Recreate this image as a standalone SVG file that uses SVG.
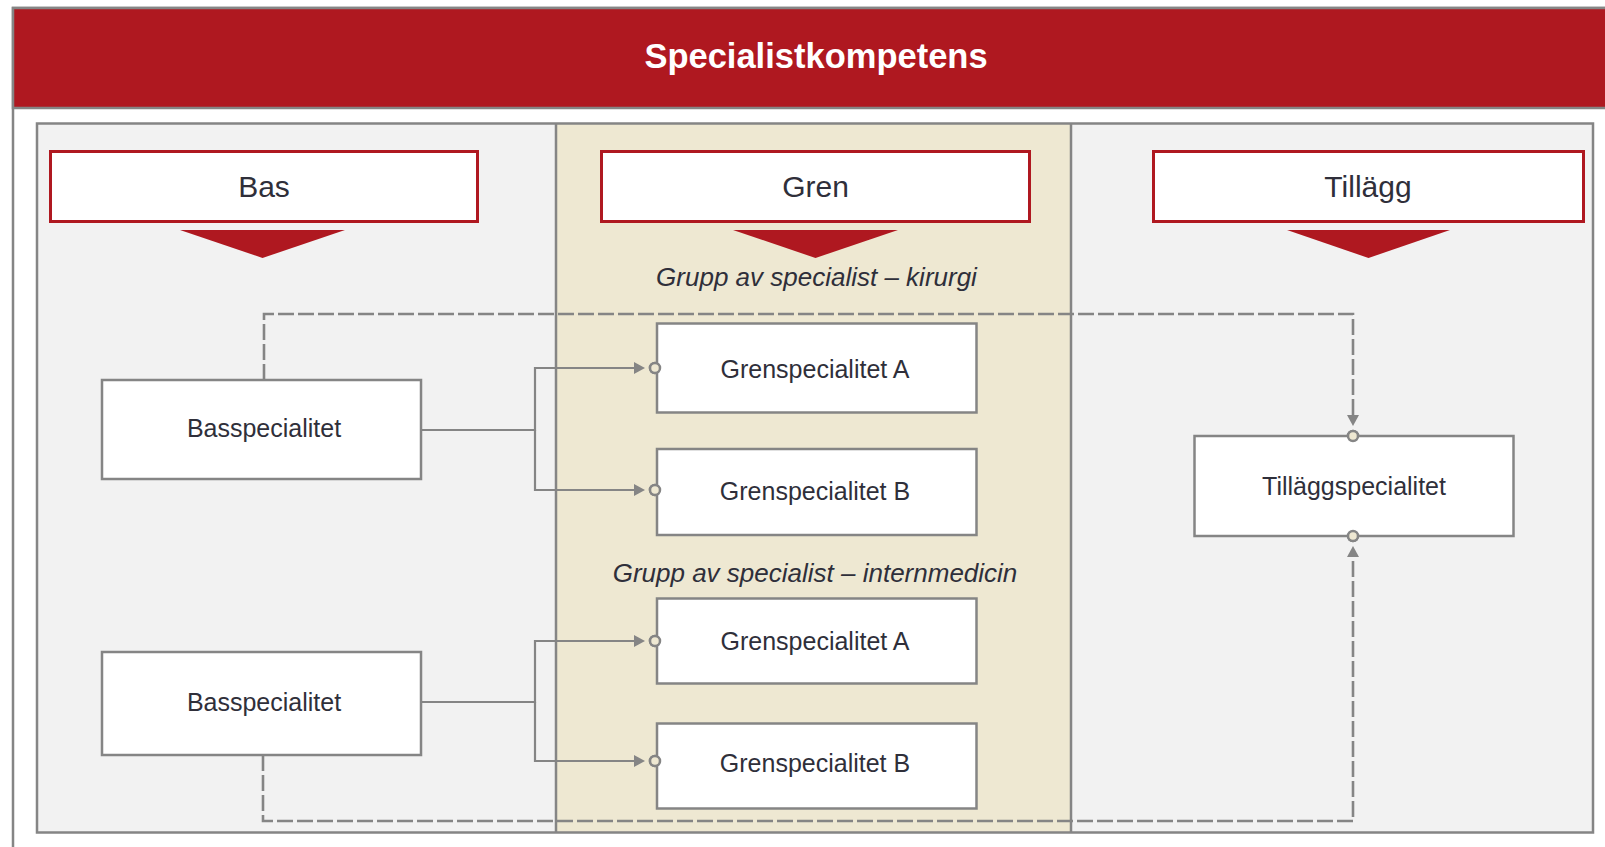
<svg xmlns="http://www.w3.org/2000/svg" width="1605" height="847" viewBox="0 0 1605 847">
<defs>
<style>
.frame{fill:none;stroke:#858585;stroke-width:2.5}
.node{fill:#ffffff;stroke:#858585;stroke-width:2.5}
.head{fill:#ffffff;stroke:#AF1820;stroke-width:3}
.tri{fill:#AF1820}
.lbl{font-family:"Liberation Sans",Arial,sans-serif;fill:#2f2f3a;text-anchor:middle}
.hl{font-size:30px}
.nl{font-size:25px}
.gl{font-size:26px;font-style:italic}
.conn{fill:none;stroke:#858585;stroke-width:2.2}
.dash{fill:none;stroke:#858585;stroke-width:2.6;stroke-dasharray:16 4}
</style>
<marker id="endmk" markerUnits="userSpaceOnUse" viewBox="-1 -8 30 16" refX="0" refY="0" markerWidth="30" markerHeight="16" orient="auto" overflow="visible">
<polygon points="0,-6 11,0 0,6" fill="#858585"/>
<circle cx="21" cy="0" r="5" fill="#EEE8D2" stroke="#858585" stroke-width="2.5"/>
</marker>
</defs>
<rect x="0" y="0" width="1605" height="847" fill="#ffffff"/>
<g id="outer">
<rect x="13" y="8" width="1620" height="860" class="frame"/>
<rect x="13" y="8" width="1620" height="100" fill="#AF1820" stroke="#858585" stroke-width="2.5"/>
<text x="816" y="68" font-family="Liberation Sans,Arial,sans-serif" font-weight="bold" font-size="34.5" fill="#ffffff" text-anchor="middle">Specialistkompetens</text>
</g>
<g id="panel">
<rect x="37" y="123.5" width="1556" height="709" fill="#F2F2F2"/>
<rect x="556" y="123.5" width="515" height="709" fill="#EEE8D2"/>
<rect x="37" y="123.5" width="1556" height="709" class="frame"/>
<line x1="556" y1="123.5" x2="556" y2="832.5" class="frame"/>
<line x1="1071" y1="123.5" x2="1071" y2="832.5" class="frame"/>
</g>
<g id="col-bas">
<rect x="50.5" y="151.5" width="427" height="70" class="head"/>
<text x="264" y="197" class="lbl hl">Bas</text>
<polygon points="180,230 345,230 262.5,258" class="tri"/>
</g>
<g id="col-gren">
<rect x="601.5" y="151.5" width="428" height="70" class="head"/>
<text x="815.5" y="197" class="lbl hl">Gren</text>
<polygon points="733,230 898,230 815.5,258" class="tri"/>
</g>
<g id="col-tillagg">
<rect x="1153.5" y="151.5" width="430" height="70" class="head"/>
<text x="1368" y="197" class="lbl hl">Tillägg</text>
<polygon points="1287,230 1450,230 1368.5,258" class="tri"/>
</g>
<g id="group-labels">
<text x="816.5" y="286" class="lbl gl">Grupp av specialist – kirurgi</text>
<text x="815" y="582" class="lbl gl">Grupp av specialist – internmedicin</text>
</g>
<g id="connectors">
<path d="M264,380 V314 H1353 V415" class="dash" marker-end="url(#endmk)"/>
<path d="M263,755 V821 H1353 V557" class="dash" marker-end="url(#endmk)"/>
<path d="M421,430 H535 V368 H634" class="conn" marker-end="url(#endmk)"/>
<path d="M535,430 V490 H634" class="conn" marker-end="url(#endmk)"/>
<path d="M421,702 H535 V641 H634" class="conn" marker-end="url(#endmk)"/>
<path d="M535,702 V761 H634" class="conn" marker-end="url(#endmk)"/>
</g>
<g id="bas1">
<rect x="102" y="380" width="319" height="99" class="node"/>
<text x="264" y="437" class="lbl nl">Basspecialitet</text>
</g>
<g id="bas2">
<rect x="102" y="652" width="319" height="103" class="node"/>
<text x="264" y="711" class="lbl nl">Basspecialitet</text>
</g>
<g id="gren-kir-a">
<rect x="657" y="323.5" width="319.5" height="89" class="node"/>
<text x="815" y="378" class="lbl nl">Grenspecialitet A</text>
</g>
<g id="gren-kir-b">
<rect x="657" y="449" width="319.5" height="86" class="node"/>
<text x="815" y="500" class="lbl nl">Grenspecialitet B</text>
</g>
<g id="gren-int-a">
<rect x="657" y="598.5" width="319.5" height="85" class="node"/>
<text x="815" y="650" class="lbl nl">Grenspecialitet A</text>
</g>
<g id="gren-int-b">
<rect x="657" y="723.5" width="319.5" height="85" class="node"/>
<text x="815" y="772" class="lbl nl">Grenspecialitet B</text>
</g>
<g id="tillagg">
<rect x="1194.5" y="436" width="319" height="100" class="node"/>
<text x="1354" y="495" class="lbl nl">Tilläggspecialitet</text>
</g>
<g id="endpoints">
<circle cx="655" cy="368" r="5" fill="#EEE8D2" stroke="#858585" stroke-width="2.5"/>
<circle cx="655" cy="490" r="5" fill="#EEE8D2" stroke="#858585" stroke-width="2.5"/>
<circle cx="655" cy="641" r="5" fill="#EEE8D2" stroke="#858585" stroke-width="2.5"/>
<circle cx="655" cy="761" r="5" fill="#EEE8D2" stroke="#858585" stroke-width="2.5"/>
<circle cx="1353" cy="436" r="5" fill="#EEE8D2" stroke="#858585" stroke-width="2.5"/>
<circle cx="1353" cy="536" r="5" fill="#EEE8D2" stroke="#858585" stroke-width="2.5"/>
</g>
</svg>
